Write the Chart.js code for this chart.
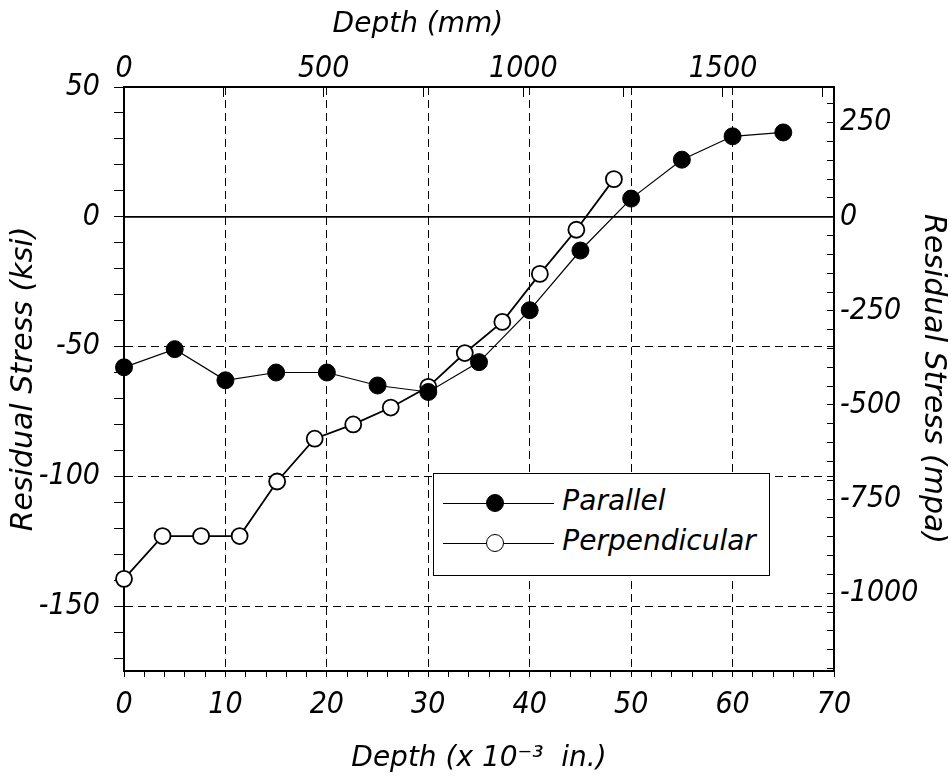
<!DOCTYPE html>
<html>
<head>
<meta charset="utf-8">
<script src="https://cdn.jsdelivr.net/npm/chart.js@4.4.0/dist/chart.umd.min.js"></script>
<style>
  body { margin: 0; background: #fff; }
  #wrap { position: relative; width: 951px; height: 778px; }
  #legend {
    position: absolute; background: #fff; border: 1.5px solid #000;
    font-family: 'DejaVu Sans', sans-serif;
    font-style: italic; font-size: 28px; color: #000; box-sizing: border-box;
  }
  .row { position: absolute; left: 0; height: 30px; width: 100%; }
  .row .ln { position: absolute; left: 9px; width: 111px; top: 15px; border-top: 1.3px solid #000; }
  .row .mk { position: absolute; left: 52px; top: 6px; width: 16px; height: 16px; border-radius: 50%; border: 1.5px solid #000; }
  .row .tx { position: absolute; left: 128px; top: -4px; }
</style>
</head>
<body>
<div id="wrap">
  <canvas id="chart"></canvas>
  <div id="legend"></div>
</div>
<script>
// Depth in 10^-3 in., residual stress in ksi
const parallelDepth = [0, 5, 10, 15, 20, 25, 30, 35, 40, 45, 50, 55, 60, 65];
const parallelStress = [-58, -51, -63, -60, -60, -65, -67.5, -56, -36, -13, 7, 22, 31, 32.5];

const perpDepth = [0, 3.8, 7.6, 11.4, 15.1, 18.8, 22.6, 26.3, 30, 33.6, 37.3, 41, 44.6, 48.3];
const perpStress = [-139.5, -123, -123, -123, -102, -85.5, -80, -73.5, -65.5, -52.5, -40.5, -22, -5, 14.5];

const depthRange = [0, 70];
const stressRange = [-175, 50];
const MM_PER_UNIT = 25.4;   // eixo de cima
const MPA_PER_KSI = 6.895;  // eixo da direita

const numFont = "'Liberation Sans Narrow', 'DejaVu Sans Condensed', sans-serif";
const txtFont = "'DejaVu Sans', sans-serif";

function pairs(xs, ys) {
    return xs.map((x, i) => ({ x: x, y: ys[i] }));
}

// ticks a cada passo, a partir de um multiplo do passo
function stepTicks(step) {
    return s => {
        const t = [];
        for (let v = Math.ceil(s.min / step) * step; v <= s.max + 1e-9; v += step) t.push({ value: v });
        s.ticks = t;
    };
}

// linha do zero, continua
const zeroLine = {
    id: 'zeroLine',
    beforeDatasetsDraw(chart) {
        const { ctx, chartArea, scales } = chart;
        const y = scales.y.getPixelForValue(0);
        ctx.save();
        ctx.strokeStyle = '#000';
        ctx.lineWidth = 1.8;
        ctx.beginPath();
        ctx.moveTo(chartArea.left, y);
        ctx.lineTo(chartArea.right, y);
        ctx.stroke();
        ctx.restore();
    }
};

// titulo do eixo de cima, deslocado para a esquerda como no original
const topTitle = {
    id: 'topTitle',
    afterDraw(chart) {
        const { ctx, scales } = chart;
        ctx.save();
        ctx.font = 'italic 28px ' + txtFont;
        ctx.fillStyle = '#000';
        ctx.textAlign = 'center';
        ctx.textBaseline = 'middle';
        ctx.fillText('Depth (mm)', scales.x2.getPixelForValue(736), 25);
        ctx.restore();
    }
};

const ctx = document.getElementById('chart').getContext('2d');
const chart = new Chart(ctx, {
    type: 'line',
    data: {
        datasets: [
            {
                label: 'Parallel',
                data: pairs(parallelDepth, parallelStress),
                borderColor: '#000',
                borderWidth: 1.2,
                pointRadius: 8.5,
                pointBackgroundColor: '#000',
                pointBorderColor: '#000',
                pointBorderWidth: 1,
                clip: false
            },
            {
                label: 'Perpendicular',
                data: pairs(perpDepth, perpStress),
                borderColor: '#000',
                borderWidth: 1.8,
                pointRadius: 8,
                pointBackgroundColor: '#fff',
                pointBorderColor: '#000',
                pointBorderWidth: 1.8,
                clip: false
            }
        ]
    },
    options: {
        responsive: true,
        maintainAspectRatio: false,
        animation: false,
        layout: { padding: 0 },
        plugins: {
            legend: { display: false },
            tooltip: { enabled: false }
        },
        scales: {
            x: {
                type: 'linear',
                position: 'bottom',
                min: depthRange[0],
                max: depthRange[1],
                afterFit: s => { s.height = 107; },
                afterBuildTicks: stepTicks(2),
                ticks: {
                    autoSkip: false,
                    maxRotation: 0,
                    padding: 10,
                    color: '#000',
                    font: { family: numFont, size: 30, style: 'italic' },
                    callback: v => (v % 10 === 0 ? String(v) : '')
                },
                grid: {
                    color: c => (c.tick && c.tick.value % 10 === 0 && c.tick.value > 0 && c.tick.value < 70 ? '#000' : 'transparent'),
                    tickColor: '#000',
                    tickLength: 6,
                    lineWidth: 1
                },
                border: { color: '#000', width: 2, dash: [8, 5] },
                title: {
                    display: true,
                    text: 'Depth (x 10\u207B\u00B3  in.)',
                    color: '#000',
                    font: { family: txtFont, size: 28, style: 'italic' },
                    padding: { top: 0, bottom: 2 }
                }
            },
            x2: {
                type: 'linear',
                position: 'top',
                min: depthRange[0] * MM_PER_UNIT,
                max: depthRange[1] * MM_PER_UNIT,
                afterFit: s => { s.height = 87; },
                afterBuildTicks: stepTicks(250),
                ticks: {
                    autoSkip: false,
                    maxRotation: 0,
                    padding: 10,
                    color: '#000',
                    font: { family: numFont, size: 30, style: 'italic' },
                    callback: v => (v % 500 === 0 ? String(v) : '')
                },
                grid: { drawOnChartArea: false, tickColor: '#000', tickLength: -10 },
                border: { color: '#000', width: 2 }
            },
            y: {
                type: 'linear',
                position: 'left',
                min: stressRange[0],
                max: stressRange[1],
                afterFit: s => { s.width = 124; },
                afterBuildTicks: stepTicks(10),
                ticks: {
                    autoSkip: false,
                    padding: 14,
                    color: '#000',
                    font: { family: numFont, size: 30, style: 'italic' },
                    callback: v => (v % 50 === 0 ? String(v) : '')
                },
                grid: {
                    color: c => (c.tick && c.tick.value % 50 === 0 && c.tick.value < 0 && c.tick.value > -175 ? '#000' : 'transparent'),
                    tickColor: '#000',
                    tickLength: 10,
                    lineWidth: 1
                },
                border: { color: '#000', width: 2, dash: [8, 5] },
                title: {
                    display: true,
                    text: 'Residual Stress (ksi)',
                    color: '#000',
                    font: { family: txtFont, size: 30, style: 'italic' },
                    padding: { top: 6, bottom: 0 }
                }
            },
            y2: {
                type: 'linear',
                position: 'right',
                min: stressRange[0] * MPA_PER_KSI,
                max: stressRange[1] * MPA_PER_KSI,
                afterFit: s => { s.width = 117; },
                afterBuildTicks: stepTicks(50),
                ticks: {
                    autoSkip: false,
                    padding: 13,
                    color: '#000',
                    font: { family: numFont, size: 30, style: 'italic' },
                    callback: v => (Math.abs(v) % 250 === 0 ? String(v) : '')
                },
                grid: { drawOnChartArea: false, tickColor: '#000', tickLength: -7 },
                border: { color: '#000', width: 2 },
                title: {
                    display: true,
                    text: 'Residual Stress (mpa)',
                    color: '#000',
                    font: { family: txtFont, size: 30, style: 'italic' },
                    padding: { top: 0, bottom: 0 }
                }
            }
        }
    },
    plugins: [zeroLine, topTitle]
});

// legenda dentro do grafico
const legend = document.getElementById('legend');
const xs = chart.scales.x, ys = chart.scales.y;
legend.style.left = xs.getPixelForValue(30.5) + 'px';
legend.style.width = (xs.getPixelForValue(63.7) - xs.getPixelForValue(30.5)) + 'px';
legend.style.top = ys.getPixelForValue(-98.7) + 'px';
legend.style.height = (ys.getPixelForValue(-138.4) - ys.getPixelForValue(-98.7)) + 'px';
chart.data.datasets.forEach((ds, i) => {
    const row = document.createElement('div');
    row.className = 'row';
    row.style.top = (14 + i * 40) + 'px';
    row.innerHTML = '<div class="ln"></div><div class="mk" style="background:' + ds.pointBackgroundColor +
        '"></div><div class="tx">' + ds.label + '</div>';
    legend.appendChild(row);
});
</script>
</body>
</html>
